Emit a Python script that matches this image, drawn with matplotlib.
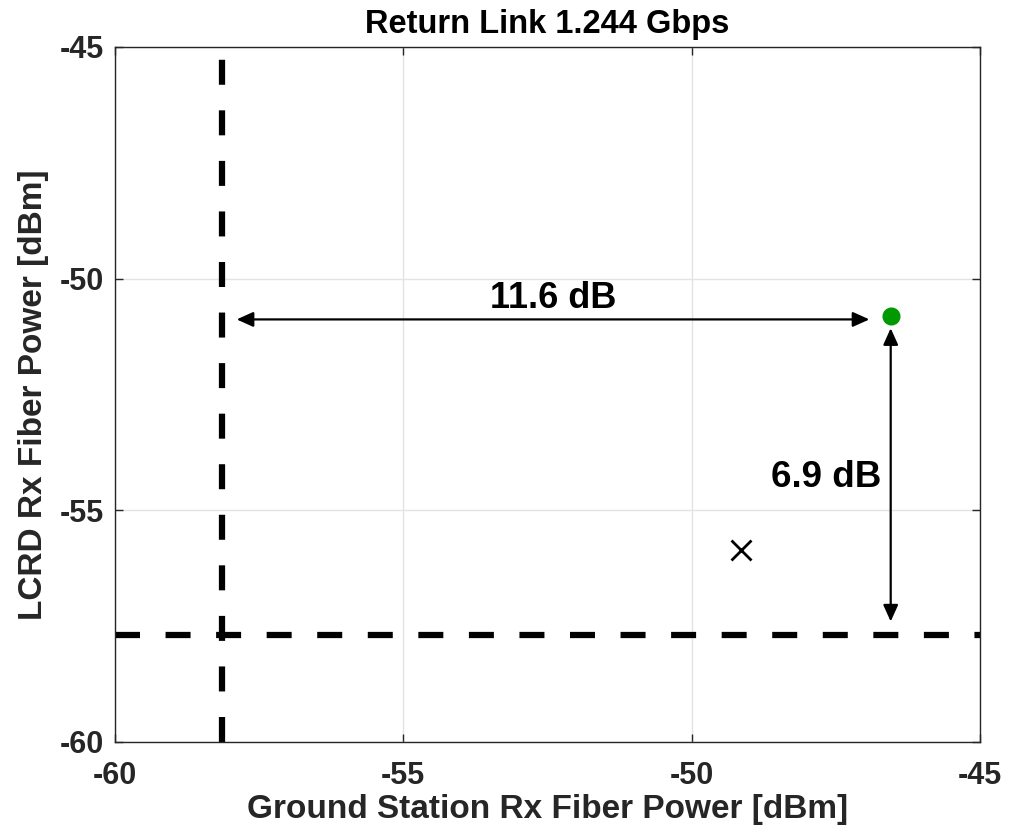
import matplotlib
matplotlib.use("Agg")
import matplotlib.pyplot as plt

# Link budget data (dBm)
gs_sensitivity = -58.15      # ground station Rx sensitivity threshold
lcrd_sensitivity = -57.7     # LCRD Rx sensitivity threshold
measured_point = (-46.55, -50.8)   # operating point (GS Rx, LCRD Rx)
other_point = (-49.15, -55.85)     # second operating point
x_ticks = [-60, -55, -50, -45]
y_ticks = [-60, -55, -50, -45]

plt.rcParams['font.family'] = ['Liberation Sans', 'DejaVu Sans']
plt.rcParams['font.weight'] = 'bold'
plt.rcParams['lines.scale_dashes'] = False
plt.rcParams['axes.unicode_minus'] = False

fig = plt.figure(figsize=(10.22, 8.27), dpi=100)
ax = fig.add_axes([0.1125, 0.1028, 0.959 - 0.1125, 0.9432 - 0.1028])

ax.set_xlim(-60, -45)
ax.set_ylim(-60, -45)
ax.set_xticks(x_ticks)
ax.set_yticks(y_ticks)
ax.grid(True, color='#e3e3e3', linewidth=1.0)
ax.set_axisbelow(True)

dash = (18, 18.4)
ax.plot([gs_sensitivity, gs_sensitivity], [-60, -45], color='black', lw=4.5,
        linestyle=(0, dash), dash_capstyle='butt')
ax.plot([-60, -45], [lcrd_sensitivity, lcrd_sensitivity], color='black', lw=4.5,
        linestyle=(0, dash), dash_capstyle='butt')

ax.plot(*other_point, marker='x', color='black', markersize=14, mew=2.0, ls='none')
ax.plot(*measured_point, marker='o', color='#009900', markersize=12, ls='none')

px, py = measured_point
arrow_kw = dict(arrowstyle='<|-|>,head_length=1.0,head_width=0.45', color='black',
                lw=1.6, shrinkA=0, shrinkB=0)
hy = py - 0.08
ax.annotate('', xy=(gs_sensitivity + 0.26, hy), xytext=(px - 0.37, hy),
            arrowprops=arrow_kw)
ax.annotate('', xy=(px, py - 0.27), xytext=(px, lcrd_sensitivity + 0.3),
            arrowprops=arrow_kw)

ax.text((gs_sensitivity + px) / 2 - 0.05, hy + 0.08, f'{px - gs_sensitivity:.1f} dB',
        ha='center', va='bottom', fontsize=26, fontweight='bold')
ax.text(px - 0.17, (py + lcrd_sensitivity) / 2 - 0.05, f'{py - lcrd_sensitivity:.1f} dB',
        ha='right', va='center', fontsize=26.5, fontweight='bold')

for s in ax.spines.values():
    s.set_color('#262626')
    s.set_linewidth(1.0)
ax.tick_params(direction='in', length=6, width=1.0, colors='#262626',
               labelsize=22, top=True, right=True)
ax.tick_params(axis='x', pad=14)
ax.tick_params(axis='y', pad=8)
for lab in ax.get_xticklabels() + ax.get_yticklabels():
    lab.set_fontweight('bold')
    lab.set_color('#262626')

ax.set_xlabel('Ground Station Rx Fiber Power [dBm]', fontsize=24, fontweight='bold',
              color='#262626', labelpad=2)
ax.set_ylabel('LCRD Rx Fiber Power [dBm]', fontsize=24, fontweight='bold',
              color='#262626', labelpad=8)
ax.set_title('Return Link 1.244 Gbps', fontsize=23.5, fontweight='bold', pad=10)

fig.savefig('out.png', dpi=100)
